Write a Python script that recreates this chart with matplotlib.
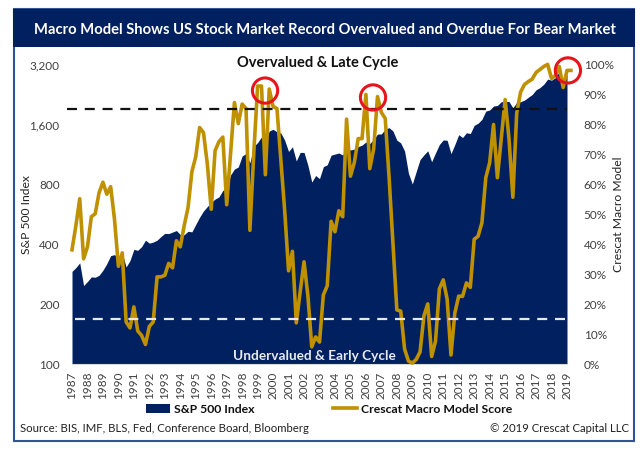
import numpy as np
import matplotlib
matplotlib.use("Agg")
import matplotlib.pyplot as plt
from matplotlib.patches import Rectangle
from matplotlib.lines import Line2D
from matplotlib.ticker import FuncFormatter, FixedLocator, NullLocator

plt.rcParams["font.family"] = ["Lato", "DejaVu Sans"]

NAVY = "#002060"
GOLD = "#BF9000"
GREY = "#404040"

# quarterly values, first point is start of 1987
sp500 = [
    291, 304, 321, 247, 259, 273, 272, 278, 295, 318, 349, 353,
    340, 358, 306, 330, 375, 371, 387, 417, 403, 408, 417, 435,
    451, 450, 458, 466, 445, 444, 462, 459, 500, 544, 584, 615,
    645, 670, 687, 740, 757, 885, 947, 970, 1101, 1133, 1017, 1229,
    1286, 1372, 1282, 1469, 1498, 1454, 1436, 1320, 1160, 1224, 1040, 1148,
    1147, 989, 815, 879, 848, 974, 995, 1111, 1126, 1140, 1114, 1211,
    1180, 1191, 1228, 1248, 1294, 1270, 1335, 1418, 1420, 1503, 1526, 1468,
    1322, 1280, 1166, 903, 797, 919, 1057, 1115, 1169, 1030, 1141, 1257,
    1325, 1320, 1131, 1257, 1408, 1362, 1440, 1426, 1569, 1606, 1681, 1848,
    1872, 1960, 1972, 2058, 2067, 2063, 1920, 2043, 2059, 2098, 2168, 2238,
    2362, 2423, 2519, 2673, 2640, 2718, 2913, 2506, 2834,
]
score = [
    38, 46, 55, 35, 39, 49, 50, 57, 60.5, 56.5, 59, 48,
    32.5, 37, 14, 12, 19, 11, 9.5, 6.5, 12.5, 14, 29, 29,
    29.5, 33.5, 32, 41, 39, 46, 52, 64, 69, 78.7, 77, 66.5,
    51.5, 71, 74, 75.5, 53, 70, 87, 80, 86.5, 85, 44.5, 70,
    92.5, 92.5, 63, 91.5, 85.7, 85, 68, 51, 31, 37.5, 13.7, 24,
    34, 22.7, 5.7, 9, 7.3, 23, 26, 47.5, 44, 51, 49, 81.5,
    62.5, 67, 75, 75, 89.7, 65, 71.5, 89, 83.7, 81.7, 62, 40,
    18, 17.6, 5, 1, 0.3, 1.5, 4, 16, 20, 2.5, 7.6, 25,
    28, 21.6, 3, 17, 22.6, 22.5, 27, 25.5, 41.5, 42.5, 47, 62,
    67, 79.7, 62, 75, 88, 75, 55.5, 83.5, 90.5, 93, 94, 94.8,
    97, 98, 99, 99.7, 95, 96, 99, 92, 97.7, 97.7,
]
years = list(range(1987, 2020))
sp_ticks = [100, 200, 400, 800, 1600, 3200]
score_ticks = [0, 10, 20, 30, 40, 50, 60, 70, 80, 90, 100]
over_level = 85
under_level = 15
circles = [(1999.48, 91), (2006.46, 88.7), (2019.06, 97.7)]

W, H = 644, 452
fig = plt.figure(figsize=(W / 100, H / 100), dpi=100)


def fx(px):
    return px / W


def fy(py):
    return 1 - py / H


# frame + title banner
fig.add_artist(Rectangle((fx(13.5), fy(441.5)), (634 - 13.5) / W, (441.5 - 10) / H,
                         transform=fig.transFigure, fc="white", ec="#2F5597", lw=1.5, zorder=-2))
fig.add_artist(Rectangle((fx(13), fy(48)), (634.5 - 13) / W, 38 / H,
                         transform=fig.transFigure, fc=NAVY, ec="none", zorder=-1))
fig.text(fx(325), fy(30), "Macro Model Shows US Stock Market Record Overvalued and Overdue For Bear Market",
         color="white", fontsize=10.6, fontweight="bold", ha="center", va="center")

ax = fig.add_axes([fx(72), fy(365), (567 - 72) / W, (365 - 64.5) / H])
ax.patch.set_alpha(0)
x_sp = 1987 + np.arange(len(sp500)) * 0.25
x_score = 1987 + np.arange(len(score)) * 0.25

ax.fill_between(x_sp, sp500, 100, color=NAVY, lw=0, label="S&P 500 Index")
ax.set_yscale("log", base=2)
ax.set_ylim(100, 3200)
ax.set_xlim(1987, 2019)
ax.yaxis.set_major_locator(FixedLocator(sp_ticks))
ax.yaxis.set_minor_locator(NullLocator())
ax.yaxis.set_major_formatter(FuncFormatter(lambda v, p: f"{int(v):,}"))
ax.set_xticks(years)
ax.set_xticklabels(years, rotation=90)
ax.tick_params(axis="both", length=0, labelsize=8.5, labelcolor=GREY)
ax.tick_params(axis="x", pad=5)
ax.tick_params(axis="y", pad=9)
for s in ax.spines.values():
    s.set_visible(False)
ax.spines["bottom"].set_visible(True)
ax.spines["bottom"].set_color("#D9D9D9")
ax.set_ylabel("S&P 500 Index", fontsize=8.7, color="#222222")
ax.yaxis.set_label_coords((32 - 72) / 495, 0.5)

ax2 = ax.twinx()
ax2.patch.set_alpha(0)
ax2.plot(x_score, score, color=GOLD, lw=2.6, clip_on=False, solid_joinstyle="round", label="Crescat Macro Model Score")
ax2.axhline(over_level, xmin=-5 / 495, color="#111111", lw=1.6, dashes=(4.5, 3.5), clip_on=False)
ax2.axhline(under_level, xmin=3 / 495, color="#E8E8E8", lw=1.6, dashes=(4.5, 3.5))
cx, cy = zip(*circles)
ax2.scatter(cx, cy, s=330, facecolors="none", edgecolors="#E8141C", linewidths=2.2, clip_on=False, zorder=5)
ax2.set_ylim(0, 100)
ax2.set_yticks(score_ticks)
ax2.set_yticklabels([f"{v}%" for v in score_ticks])
ax2.tick_params(axis="y", length=0, labelsize=8.5, labelcolor=GREY, pad=12)
for s in ax2.spines.values():
    s.set_visible(False)
ax2.set_ylabel("Crescat Macro Model", fontsize=8.7, color="#222222", rotation=90)
ax2.yaxis.set_label_coords((613 - 72) / 495, 0.5)

fig.text(fx(318), fy(63), "Overvalued & Late Cycle", fontsize=10.5, fontweight="bold",
         color="#111111", ha="center", va="center")
fig.text(fx(314), fy(356), "Undervalued & Early Cycle", fontsize=9.8, fontweight="bold",
         color="#E8EAF0", ha="center", va="center")

# legend
handles = [Rectangle((0, 0), 1, 1, fc=NAVY, ec="none"), Line2D([], [], color=GOLD, lw=2.6)]
fig.legend(handles, ["S&P 500 Index", "Crescat Macro Model Score"], ncol=2, frameon=False,
           loc="center", bbox_to_anchor=(fx(329), fy(410)), prop={"size": 8.8, "weight": "bold"},
           handlelength=2.0, handletextpad=0.3, columnspacing=6.4, labelcolor="#111111")

fig.text(fx(20), fy(429), "Source: BIS, IMF, BLS, Fed, Conference Board, Bloomberg", fontsize=8.2,
         color="#222222", va="center")
fig.text(fx(629), fy(429), "© 2019 Crescat Capital LLC", fontsize=8.2, color="#222222", va="center", ha="right")

fig.savefig("out.png", dpi=100)
